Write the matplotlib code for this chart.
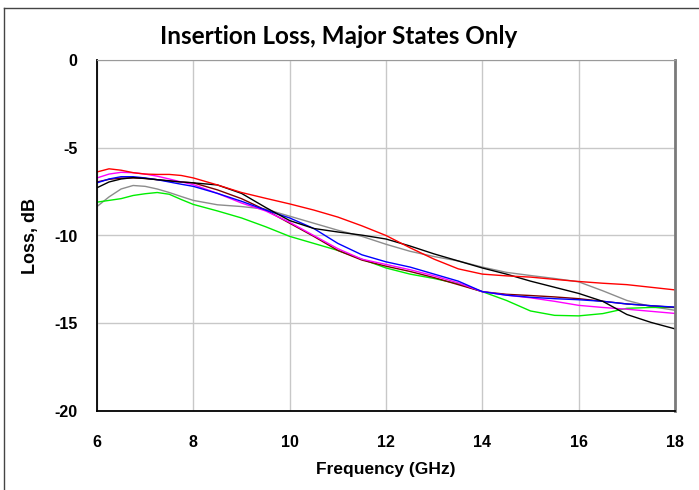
import matplotlib.pyplot as plt
from matplotlib.lines import Line2D

plt.rcParams["axes.unicode_minus"] = False

# Frequency points (GHz), finer near the low-band bump
freq = [6, 6.25, 6.5, 6.75, 7, 7.25, 7.5, 7.75, 8, 8.5, 9, 9.5, 10, 10.5, 11,
        11.5, 12, 12.5, 13, 13.5, 14, 14.5, 15, 15.5, 16, 16.5, 17, 17.5, 18]

loss_red = [-6.38, -6.2, -6.28, -6.42, -6.5, -6.52, -6.52, -6.58, -6.72, -7.12,
            -7.55, -7.88, -8.2, -8.55, -8.95, -9.45, -10.0, -10.7, -11.35, -11.9,
            -12.2, -12.3, -12.37, -12.5, -12.62, -12.72, -12.8, -12.95, -13.1]
loss_black = [-7.28, -6.95, -6.78, -6.7, -6.75, -6.82, -6.88, -6.95, -7.0, -7.12,
              -7.6, -8.4, -9.15, -9.6, -9.8, -9.98, -10.2, -10.6, -11.05, -11.45,
              -11.85, -12.2, -12.6, -12.95, -13.3, -13.75, -14.5, -14.95, -15.32]
loss_gray = [-8.35, -7.8, -7.35, -7.15, -7.2, -7.35, -7.55, -7.78, -8.0, -8.25,
             -8.35, -8.5, -8.9, -9.3, -9.7, -10.05, -10.5, -10.9, -11.2, -11.45,
             -11.8, -12.1, -12.28, -12.45, -12.64, -13.15, -13.7, -14.05, -14.26]
loss_magenta = [-6.72, -6.5, -6.4, -6.42, -6.5, -6.62, -6.78, -6.95, -7.1, -7.6,
                -8.15, -8.6, -9.25, -10.0, -10.75, -11.35, -11.65, -11.95, -12.3,
                -12.7, -13.2, -13.4, -13.55, -13.75, -13.98, -14.1, -14.2, -14.32, -14.44]
loss_darkred = [-6.95, -6.8, -6.73, -6.72, -6.75, -6.82, -6.9, -6.95, -7.0, -7.4,
                -7.9, -8.55, -9.3, -10.05, -10.85, -11.4, -11.75, -12.05, -12.4,
                -12.8, -13.2, -13.35, -13.42, -13.5, -13.6, -13.75, -13.9, -14.0, -14.1]
loss_blue = [-7.0, -6.78, -6.65, -6.65, -6.72, -6.82, -6.95, -7.08, -7.2, -7.6,
             -8.05, -8.55, -9.0, -9.6, -10.45, -11.1, -11.5, -11.8, -12.2, -12.6,
             -13.2, -13.4, -13.52, -13.6, -13.66, -13.75, -13.9, -14.0, -14.08]
loss_green = [-8.1, -8.0, -7.9, -7.72, -7.62, -7.55, -7.65, -7.95, -8.23, -8.6,
              -9.0, -9.5, -10.05, -10.45, -10.85, -11.35, -11.85, -12.2, -12.45,
              -12.75, -13.2, -13.7, -14.3, -14.55, -14.58, -14.45, -14.15, -14.1, -14.1]

series = [
    (loss_gray, "#8c8c8c"),
    (loss_green, "#00ee00"),
    (loss_darkred, "#7a0000"),
    (loss_magenta, "#ff00ff"),
    (loss_blue, "#0000ff"),
    (loss_black, "#000000"),
    (loss_red, "#ff0000"),
]

fig = plt.figure(figsize=(6.99, 4.90), dpi=100)
ax = fig.add_axes([97 / 699, 1 - 411 / 490, 578 / 699, 351 / 490])

for vals, color in series:
    ax.plot(freq, vals, color=color, linewidth=1.0)

ax.set_xlim(6, 18)
ax.set_ylim(-20, 0)
ax.set_xticks(range(6, 19, 2))
ax.set_yticks([-20, -15, -10, -5, 0])
ax.grid(True, color="#c8c8c8", linewidth=1.0)
ax.set_axisbelow(True)

ax.tick_params(length=0)
ax.tick_params(axis="x", pad=17)
ax.tick_params(axis="y", pad=14)
for lbl in ax.get_xticklabels() + ax.get_yticklabels():
    lbl.set_fontfamily("Liberation Sans")
    lbl.set_fontweight("bold")
    lbl.set_fontsize(11.5)

ax.spines["left"].set_color("black")
ax.spines["bottom"].set_color("black")
ax.spines["left"].set_linewidth(1.3)
ax.spines["bottom"].set_linewidth(1.3)
ax.spines["top"].set_color("#9a9a9a")
ax.spines["right"].set_color("#7a7a7a")
ax.spines["right"].set_linewidth(2.0)

ax.set_xlabel("Frequency (GHz)", fontfamily="Liberation Sans", fontweight="bold",
              fontsize=12.5, labelpad=9)
ax.set_ylabel("Loss, dB", fontfamily="Liberation Sans", fontweight="bold",
              fontsize=13, labelpad=11)

fig.text(339 / 699, 1 - 37 / 490, "Insertion Loss, Major States Only",
         ha="center", va="center", fontfamily="Lato", fontweight="bold",
         fontsize=17.5)

# outer chart border (cut off at right and bottom)
fig.add_artist(Line2D([3.5 / 699, 3.5 / 699], [0, 1 - 8.5 / 490],
                      transform=fig.transFigure, color="#444444", linewidth=1.0))
fig.add_artist(Line2D([3.5 / 699, 1], [1 - 8.5 / 490, 1 - 8.5 / 490],
                      transform=fig.transFigure, color="#444444", linewidth=1.0))

fig.savefig("out.png", dpi=100)
